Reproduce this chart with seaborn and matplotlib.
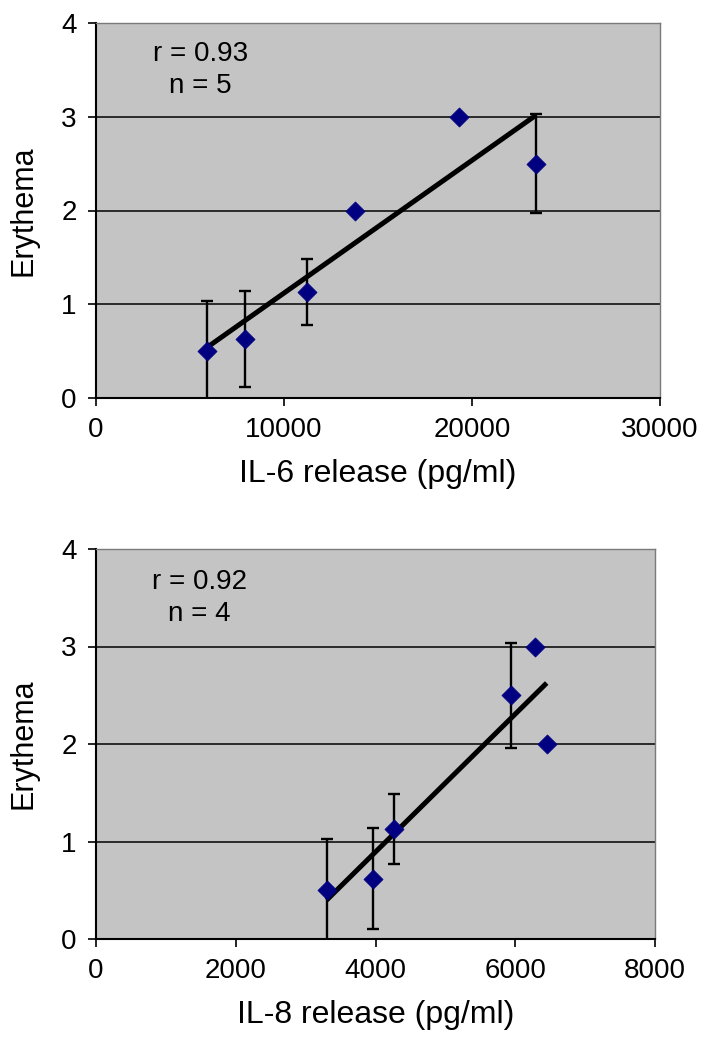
import numpy as np
import matplotlib
matplotlib.use('Agg')
import matplotlib.pyplot as plt
import seaborn as sns

# Style: Excel-like grey plot area
sns.set_theme(style="ticks")
plt.rcParams['font.family'] = ['Liberation Sans', 'DejaVu Sans']

# Data (IL-6 panel)
il6_release = [5900, 7900, 11200, 13800, 19300, 23400]
il6_erythema = [0.50, 0.63, 1.13, 2.00, 3.00, 2.50]
il6_err = [0.53, 0.51, 0.35, np.nan, np.nan, 0.53]

# Data (IL-8 panel)
il8_release = [3300, 3970, 4270, 5940, 6280, 6450]
il8_erythema = [0.50, 0.62, 1.13, 2.50, 3.00, 2.00]
il8_err = [0.53, 0.52, 0.36, 0.54, np.nan, np.nan]

yticks = [0, 1, 2, 3, 4]
il6_xticks = [0, 10000, 20000, 30000]
il8_xticks = [0, 2000, 4000, 6000, 8000]

PLOT_BG = '#C4C4C4'
MARKER_COLOR = '#000080'


def draw_panel(ax, x, y, err, xticks, xlabel, note):
    ax.set_facecolor(PLOT_BG)

    # Error bars (only where the source shows them)
    x = np.asarray(x, dtype=float)
    y = np.asarray(y, dtype=float)
    err = np.asarray(err, dtype=float)
    has_err = ~np.isnan(err)
    ax.errorbar(x[has_err], y[has_err], yerr=err[has_err], fmt='none',
                ecolor='black', elinewidth=1.7, capsize=4.5, capthick=1.7,
                zorder=3)

    # Linear fit over the data range
    sns.regplot(x=x, y=y, ax=ax, scatter=False, ci=None, truncate=True,
                line_kws=dict(color='black', lw=3.6, zorder=4,
                              solid_capstyle='butt'))

    # Points
    sns.scatterplot(x=x, y=y, ax=ax, marker='D', s=95, color=MARKER_COLOR,
                    edgecolor=MARKER_COLOR, linewidth=0.5, zorder=5)

    ax.set_xlim(xticks[0], xticks[-1])
    ax.set_ylim(0, 4)
    ax.set_xticks(xticks)
    ax.set_yticks(yticks)
    ax.set_xticklabels([str(t) for t in xticks])
    ax.set_yticklabels([str(t) for t in yticks])

    ax.yaxis.grid(True, color='#1e1e1e', lw=1.3)
    ax.xaxis.grid(False)
    ax.set_axisbelow(True)

    for side in ['left', 'bottom']:
        ax.spines[side].set_color('black')
        ax.spines[side].set_linewidth(1.5)
    for side in ['top', 'right']:
        ax.spines[side].set_visible(True)
        ax.spines[side].set_color('#7a7a7a')
        ax.spines[side].set_linewidth(1.0)

    ax.tick_params(axis='both', direction='out', length=6, width=1.2,
                   color='black', labelsize=20, labelcolor='black', pad=8)
    ax.tick_params(axis='y', pad=8)

    ax.set_xlabel(xlabel, fontsize=23, color='black', labelpad=11)
    ax.set_ylabel('Erythema', fontsize=22, color='black', labelpad=16)

    ax.text(0.185, 0.875, note, transform=ax.transAxes, fontsize=20,
            ha='center', va='center', multialignment='center',
            linespacing=1.3, color='black')


fig = plt.figure(figsize=(7.04, 10.5), dpi=100)
ax_top = fig.add_axes([96 / 704, 1 - 398 / 1050, 564 / 704, 375 / 1050])
ax_bot = fig.add_axes([96 / 704, 1 - 939 / 1050, 559 / 704, 390 / 1050])

draw_panel(ax_top, il6_release, il6_erythema, il6_err, il6_xticks,
           'IL-6 release (pg/ml)', 'r = 0.93\nn = 5')
draw_panel(ax_bot, il8_release, il8_erythema, il8_err, il8_xticks,
           'IL-8 release (pg/ml)', 'r = 0.92\nn = 4')

fig.savefig('out.png', dpi=100, facecolor='white')
plt.close(fig)
